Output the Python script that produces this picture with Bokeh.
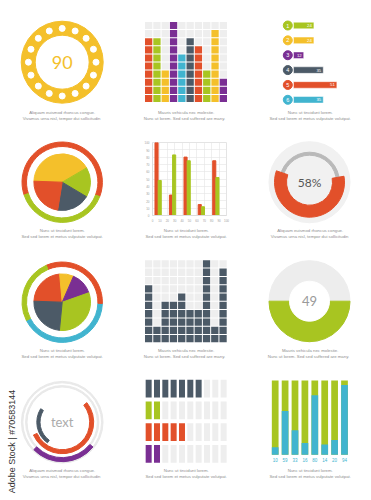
import math
from bokeh.plotting import figure
from bokeh.layouts import column, row
from bokeh.models import Range1d, Label, FixedTicker
from bokeh.embed import file_html
from bokeh.resources import INLINE
from bokeh.core.properties import value

# ---------------- data ----------------
ring_value = 90
ring_dot_count = 16

block_heights = [8, 8, 4, 10, 6, 8, 7, 4, 9, 3]
block_series = ["red", "green", "yellow", "purple", "blue", "slate", "red", "green", "yellow", "purple"]
block_rows = 10

hbar_labels = ["1", "2", "3", "4", "5", "6"]
hbar_values = [24, 24, 12, 35, 51, 35]
hbar_series = ["green", "yellow", "purple", "slate", "red", "blue"]

pie1_values = [41, 17, 19, 23]
pie1_series = ["yellow", "green", "slate", "red"]
pie1_ring_values = [61, 39]
pie1_ring_series = ["red", "green"]

grouped_x = [7.6, 27.1, 46.8, 66.0, 85.6]
grouped_red = [100, 28, 80, 15, 75]
grouped_green = [48, 83, 75, 12, 52]
grouped_ticks = [0, 10, 20, 30, 40, 50, 60, 70, 80, 90, 100]

gauge_percent = 58

pie2_values = [23, 8, 13, 32, 24]
pie2_series = ["red", "yellow", "purple", "green", "slate"]
pie2_ring_values = [42, 32, 26]
pie2_ring_series = ["blue", "red", "green"]

waffle_heights = [7, 2, 5, 5, 6, 4, 4, 10, 2, 9]
waffle_rows = 10

half_value = 49
half_share = [50, 50]  # green part, grey part

arc_label = "text"
arc_values = [27, 54, 24]
arc_series = ["purple", "red", "slate"]

row_blocks = [7, 2, 5, 2]
row_series = ["slate", "green", "red", "purple"]
row_total = 10

stack_values = [10, 59, 33, 16, 80, 14, 20, 94]

cap_a = ["Aliquam euismod rhoncus congue.", "Vivamus urna nisl,  tempor dui sollicitudin"]
cap_b = ["Mauris vehicula nec molestie.", "Nunc ut  lorem. Sed sed  suffered  are many."]
cap_c = ["Nunc ut tincidunt lorem.", "Sed sed lorem et metus vulputate volutpat."]
watermark = "Adobe Stock | #70583144"

# ---------------- style ----------------
COL = {
    "yellow": "#f4c02b",
    "red": "#e2502a",
    "green": "#a8c521",
    "purple": "#7a2f93",
    "slate": "#4c5a67",
    "blue": "#41b4cf",
}
EMPTY = "#eeeeee"
CAPC = "#8e8e8e"
CAPFONT = "Liberation Sans"
NUMFONT = "Lato"
R = math.radians


class Panel:
    def __init__(self, w, h, x0, y0, sx=1.0, sy=1.0):
        self.x0, self.y0, self.sx, self.sy = x0, y0, sx, sy
        self.fig = figure(width=w, height=h,
                          x_range=Range1d(-x0 / sx, (w - x0) / sx),
                          y_range=Range1d((y0 - h) / sy, y0 / sy),
                          x_axis_type=None, y_axis_type=None,
                          output_backend="svg", toolbar_location=None,
                          min_border=0, frame_align=False)
        self.fig.grid.visible = False
        self.fig.outline_line_color = None
        self.fig.background_fill_color = "white"
        self.fig.border_fill_color = "white"

    def X(self, px):
        return (px - self.x0) / self.sx

    def Y(self, py):
        return (self.y0 - py) / self.sy


def caption(p, X, Y, lines, cx, y1, gap=6.0):
    for i, t in enumerate(lines):
        p.add_layout(Label(x=X(cx), y=Y(y1 + i * gap), text=t, text_align="center",
                           text_baseline="middle", text_font_size="4.3px",
                           text_color=CAPC, text_font=CAPFONT))


def anticlock(values, start_deg):
    total = float(sum(values))
    s, e, cum = [], [], 0.0
    for v in values:
        s.append(R(start_deg + cum * 360 / total))
        e.append(R(start_deg + (cum + v) * 360 / total))
        cum += v
    return s, e


def clockwise(values, start_deg):
    total = float(sum(values))
    s, e, cum = [], [], 0.0
    for v in values:
        e.append(R(start_deg - cum * 360 / total))
        s.append(R(start_deg - (cum + v) * 360 / total))
        cum += v
    return s, e


def center_text(p, txt, size, color):
    p.text(x=[0], y=[0], text=[txt], text_align="center", text_baseline="middle",
           text_font=value(NUMFONT), text_font_size=size, text_color=color)


# ---------- panel 1: dotted ring ----------
P1 = Panel(124, 130, 61.7, 61.7)
p1 = P1.fig
p1.annulus(x=0, y=0, inner_radius=27, outer_radius=41, color=COL["yellow"])
ang = [math.pi / 2 + 2 * math.pi * k / ring_dot_count for k in range(ring_dot_count)]
p1.circle(x=[33.8 * math.cos(a) for a in ang], y=[33.8 * math.sin(a) for a in ang],
          radius=3, color="white")
center_text(p1, str(ring_value), "18px", COL["yellow"])
caption(p1, P1.X, P1.Y, cap_a, 61.7, 112)

# ---------- panel 2: block columns ----------
P2 = Panel(124, 130, 20, 102, 8.3, 8.1)
p2 = P2.fig
xs, ys, cs = [], [], []
for i, (hgt, s) in enumerate(zip(block_heights, block_series)):
    for j in range(block_rows):
        xs.append(i + 0.5)
        ys.append(j + 0.5)
        cs.append(COL[s] if j < hgt else EMPTY)
p2.rect(x=xs, y=ys, width=0.88, height=0.88, fill_color=cs, line_color=None)
caption(p2, P2.X, P2.Y, cap_b, 61.7, 112)

# ---------- panel 3: numbered horizontal bars ----------
P3 = Panel(123, 130, 45, 25, 0.85, 14.86)
p3 = P3.fig
hy = [-k for k in range(len(hbar_values))]
hc = [COL[s] for s in hbar_series]
p3.hbar(y=hy, left=0, right=hbar_values, height=0.44, fill_color=hc,
        line_color="white", line_alpha=0.6, line_width=0.8)
cx3 = P3.X(39.3)
p3.scatter(x=[cx3] * len(hy), y=hy, size=9, color=hc)
p3.text(x=[cx3] * len(hy), y=hy, text=hbar_labels, text_align="center", text_baseline="middle",
        text_font=value(CAPFONT), text_font_size="5.5px", text_color="white")
p3.text(x=[v - 2.4 for v in hbar_values], y=hy, text=[str(v) for v in hbar_values],
        text_align="right", text_baseline="middle", text_font=value(CAPFONT),
        text_font_size="4.3px", text_color="white")
caption(p3, P3.X, P3.Y, cap_c, 61.7, 112)

# ---------- panel 4: pie with two-part ring ----------
P4 = Panel(124, 120, 61.7, 51.7)
p4 = P4.fig
s, e = anticlock(pie1_ring_values, -21)
p4.annular_wedge(x=0, y=0, inner_radius=35.7, outer_radius=40.2, start_angle=s, end_angle=e,
                 color=[COL[c] for c in pie1_ring_series])
s, e = clockwise(pie1_values, 178)
p4.wedge(x=0, y=0, radius=28.3, start_angle=s, end_angle=e,
         color=[COL[c] for c in pie1_series])
caption(p4, P4.X, P4.Y, cap_c, 61.7, 100)

# ---------- panel 5: grouped bars with grid ----------
p5 = figure(width=124, height=94, x_range=Range1d(0, 100), y_range=Range1d(0, 100),
            output_backend="svg", toolbar_location=None, frame_align=False,
            min_border_left=28, min_border_right=22, min_border_top=12, min_border_bottom=8)
p5.background_fill_color = "white"
p5.border_fill_color = "white"
for ax in (p5.xaxis[0], p5.yaxis[0]):
    ax.ticker = FixedTicker(ticks=grouped_ticks)
    ax.major_label_text_font_size = "3px"
    ax.major_label_text_color = "#a0a0a0"
    ax.major_tick_line_color = None
    ax.minor_tick_line_color = None
    ax.major_tick_out = 0
    ax.major_tick_in = 0
    ax.minor_tick_out = 0
    ax.minor_tick_in = 0
    ax.axis_line_color = "#dddddd"
    ax.major_label_standoff = 3
p5.xgrid.ticker = FixedTicker(ticks=grouped_ticks)
p5.ygrid.ticker = FixedTicker(ticks=grouped_ticks)
p5.grid.grid_line_color = "#e4e4e4"
p5.grid.grid_line_width = 0.6
p5.outline_line_color = "#e4e4e4"
p5.vbar(x=[g - 2.15 for g in grouped_x], top=grouped_red, width=4.2, color=COL["red"])
p5.vbar(x=[g + 2.15 for g in grouped_x], top=grouped_green, width=4.2, color=COL["green"])
P5c = Panel(124, 26, 0, 0)
caption(P5c.fig, P5c.X, P5c.Y, cap_c, 61.7, 100 - 94)
panel5 = column(p5, P5c.fig)

# ---------- panel 6: percentage gauge ----------
P6 = Panel(123, 120, 61, 51.7)
p6 = P6.fig
p6.circle(x=0, y=0, radius=40.5, color="#f1f1f1")
p6.annulus(x=0, y=0, inner_radius=27, outer_radius=30, color="#b9b9b9")
p6.annular_wedge(x=0, y=0, inner_radius=23, outer_radius=35, start_angle=R(161),
                 end_angle=R(161 + gauge_percent * 3.6), color=COL["red"])
center_text(p6, f"{gauge_percent}%", "12px", "#555555")
caption(p6, P6.X, P6.Y, cap_a, 61.7, 100)

# ---------- panel 7: pie with three-part ring ----------
P7 = Panel(124, 120, 61.7, 51.7)
p7 = P7.fig
s, e = anticlock(pie2_ring_values, 207)
p7.annular_wedge(x=0, y=0, inner_radius=35.7, outer_radius=40.2, start_angle=s, end_angle=e,
                 color=[COL[c] for c in pie2_ring_series])
s, e = clockwise(pie2_values, 178)
p7.wedge(x=0, y=0, radius=28.3, start_angle=s, end_angle=e,
         color=[COL[c] for c in pie2_series])
caption(p7, P7.X, P7.Y, cap_c, 61.7, 100)

# ---------- panel 8: waffle columns ----------
P8 = Panel(124, 120, 20, 92.3, 8.27, 8.3)
p8 = P8.fig
xs, ys, cs = [], [], []
for i, hgt in enumerate(waffle_heights):
    for j in range(waffle_rows):
        xs.append(i + 0.5)
        ys.append(j + 0.5)
        cs.append(COL["slate"] if j < hgt else EMPTY)
p8.rect(x=xs, y=ys, width=0.88, height=0.88, fill_color=cs, line_color=None)
caption(p8, P8.X, P8.Y, cap_b, 61.7, 100)

# ---------- panel 9: half donut ----------
P9 = Panel(123, 120, 61, 50.7)
p9 = P9.fig
p9.circle(x=0, y=0, radius=40.5, color="#ededed")
s, e = anticlock(half_share, 180)
p9.annular_wedge(x=0, y=0, inner_radius=20, outer_radius=40.5, start_angle=s[0], end_angle=e[0],
                 color=COL["green"])
p9.circle(x=0, y=0, radius=20, color="white")
center_text(p9, str(half_value), "13px", "#9a9a9a")
caption(p9, P9.X, P9.Y, cap_b, 61.7, 100)

# ---------- panel 10: concentric arcs ----------
P10 = Panel(124, 130, 61.7, 51.7)
p10 = P10.fig
p10.annulus(x=0, y=0, inner_radius=39.4, outer_radius=40.8, color="#e9e9e9")
p10.annulus(x=0, y=0, inner_radius=35.2, outer_radius=36.6, color="#e9e9e9")
arc_starts = [224, 204, 148]
arc_radii = [(35.5, 39.5), (27.5, 31.5), (22.2, 25.4)]
for v, st, (ri, ro), sname in zip(arc_values, arc_starts, arc_radii, arc_series):
    p10.annular_wedge(x=0, y=0, inner_radius=ri, outer_radius=ro, start_angle=R(st),
                      end_angle=R(st + v * 3.6), color=COL[sname])
center_text(p10, arc_label, "13px", "#ababab")
caption(p10, P10.X, P10.Y, cap_a, 61.7, 100)
p10.add_layout(Label(x=P10.X(11.7), y=P10.Y(71), text=watermark, angle=math.pi / 2,
                     text_align="center", text_baseline="middle", text_font_size="9px",
                     text_color="#333333", text_font=CAPFONT))

# ---------- panel 11: rows of blocks ----------
P11 = Panel(124, 130, 20, 18.2, 8.33, 21.7)
p11 = P11.fig
xs, ys, cs = [], [], []
for k, (n, sname) in enumerate(zip(row_blocks, row_series)):
    for i in range(row_total):
        xs.append(i + 0.5)
        ys.append(-k)
        cs.append(COL[sname] if i < n else EMPTY)
p11.rect(x=xs, y=ys, width=0.72, height=0.815, fill_color=cs, line_color=None)
caption(p11, P11.X, P11.Y, cap_c, 61.7, 100)

# ---------- panel 12: stacked percentage bars ----------
P12 = Panel(123, 130, 26.7, 84.3, 9.9, 0.743)
p12 = P12.fig
bx = list(range(len(stack_values)))
p12.vbar(x=bx, bottom=0, top=100, width=0.68, fill_color=COL["green"], line_color=None)
p12.vbar(x=bx, bottom=0, top=stack_values, width=0.68, fill_color=COL["blue"], line_color=None)
p12.text(x=bx, y=[P12.Y(89.3)] * len(bx), text=[str(v) for v in stack_values],
         text_align="center", text_baseline="middle", text_font=value(CAPFONT),
         text_font_size="4.5px", text_color=COL["blue"])
caption(p12, P12.X, P12.Y, cap_c, 61.7, 100)

layout = column(
    row(p1, p2, p3),
    row(p4, panel5, p6),
    row(p7, P8.fig, p9),
    row(p10, p11, p12),
)

open("out.html", "w").write(file_html(layout, INLINE))
